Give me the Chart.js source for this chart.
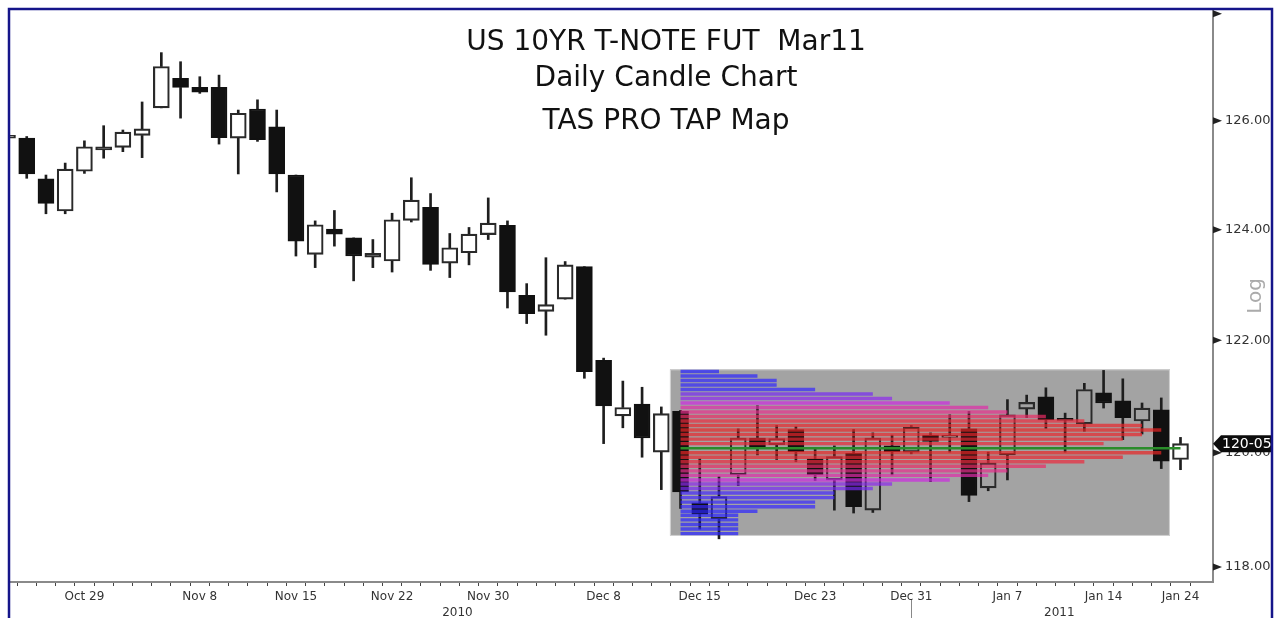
<!DOCTYPE html>
<html>
<head>
<meta charset="utf-8">
<script src="https://cdn.jsdelivr.net/npm/chart.js@4.4.1/dist/chart.umd.min.js"></script>
<style>
  html, body { margin: 0; padding: 0; background: #fff; }
  #wrap { width: 1275px; height: 618px; }
</style>
</head>
<body>
<div id="wrap"><canvas id="myChart" width="1275" height="618"></canvas></div>
<script>
// daily candles, Oct 25 2010 .. Jan 24 2011 (one entry per trading day)
const opens  = [125.68,125.68,124.93,124.34,125.07,125.46,125.51,125.73,126.24,126.79,
                126.62,126.62,125.68,126.22,125.89,125.00,123.55,124.01,123.85,123.50,
                123.43,124.17,124.41,123.39,123.58,123.91,124.08,122.81,122.52,122.74,
                123.33,121.64,120.65,120.86,120.01,120.73,119.12,118.84,119.61,120.26,
                120.14,120.41,119.89,119.52,119.99,118.99,120.12,120.01,120.31,120.27,
                120.42,119.38,119.96,120.77,120.99,120.60,120.51,121.06,120.92,120.56,
                120.76,119.88];
const highs  = [125.75,125.71,125.00,125.22,125.63,125.91,125.83,126.35,127.27,127.10,
                126.82,126.85,126.20,126.39,126.20,125.00,124.16,124.35,123.85,123.82,
                124.30,124.95,124.66,123.93,124.04,124.58,124.16,123.02,123.49,123.42,
                123.33,121.68,121.27,121.16,120.81,120.75,119.89,119.58,120.42,120.83,
                120.48,120.46,120.07,120.12,120.41,120.35,120.31,120.48,120.35,120.67,
                120.73,120.01,120.94,121.02,121.15,120.70,121.23,121.46,121.31,120.88,
                120.97,120.27];
const lows   = [125.66,124.94,124.29,124.29,125.03,125.31,125.43,125.32,126.24,126.05,
                126.51,125.57,125.02,125.62,124.69,123.52,123.31,123.70,123.07,123.31,
                123.23,124.14,123.26,123.13,123.36,123.82,122.58,122.30,122.09,122.74,
                121.32,120.16,120.44,119.92,119.35,119.02,118.66,118.49,119.42,119.96,
                119.88,119.84,119.51,118.99,118.94,118.95,119.61,119.98,119.49,120.01,
                119.14,119.33,119.52,120.62,120.43,120.01,120.38,120.79,120.23,120.33,
                119.72,119.70];
const closes = [125.73,125.02,124.48,125.11,125.52,125.52,125.79,125.85,127.01,126.62,
                126.53,125.69,126.14,125.65,125.02,123.79,124.09,123.92,123.52,123.57,
                124.18,124.54,123.37,123.67,123.92,124.12,122.87,122.48,122.64,123.36,
                121.44,120.83,120.80,120.26,120.69,119.31,118.92,119.23,120.26,120.09,
                120.25,120.02,119.61,119.93,119.05,120.26,120.02,120.45,120.20,120.30,
                119.25,119.82,120.67,120.89,120.58,120.57,121.12,120.88,120.62,120.79,
                119.85,120.16];

// x axis labels (candle index -> text)
const tickIndex = [4, 10, 15, 20, 25, 31, 36, 42, 47, 52, 57, 61];
const tickText  = ['Oct 29','Nov 8','Nov 15','Nov 22','Nov 30','Dec 8','Dec 15','Dec 23','Dec 31','Jan 7','Jan 14','Jan 24'];
const yearText  = ['2010', '2011'];
const yearAt    = [23.4, 54.7];
const yearBreak = 47;

// right axis
const priceTicks = [118, 120, 122, 124, 126, 128];
const lastPrice = 120.15625;
const lastText  = '120-05';

// TAP map: price levels and their length in bars, starting at candle 35
const tapPrices = [121.44,121.36,121.28,121.20,121.12,121.04,120.96,120.88,120.80,120.72,
                   120.64,120.56,120.48,120.40,120.32,120.24,120.16,120.08,120.00,119.92,
                   119.84,119.76,119.68,119.60,119.52,119.45,119.37,119.29,119.21,119.13,
                   119.05,118.97,118.90,118.82,118.74,118.66,118.58];
const tapBars   = [2,4,5,5,7,10,11,14,16,17,
                   19,21,24,25,24,23,22,26,25,23,
                   21,19,17,16,14,11,10,8,8,7,
                   7,4,3,3,3,3,3];
const tapStart = 35;
const pocPrice = 120.08;
const boxFrom = 34.45, boxTo = 60.45, boxLow = 118.54, boxHigh = 121.48;

const idx = opens.map((_, i) => i);
const hollow = idx.map(i => closes[i] >= opens[i]);
const maxBar = Math.max(...tapBars.filter((b, k) => tapPrices[k] !== pocPrice));

function tapColor(t) {
  const stops = [[0,[30,30,255]],[0.3,[55,40,255]],[0.42,[130,40,240]],[0.56,[205,40,225]],
                 [0.68,[232,45,140]],[0.84,[236,40,60]],[1,[232,35,35]]];
  for (let s = 1; s < stops.length; s++) {
    if (t <= stops[s][0]) {
      const a = stops[s-1], b = stops[s];
      const f = (t - a[0]) / (b[0] - a[0]);
      const c = a[1].map((v, j) => Math.round(v + (b[1][j] - v) * f));
      return 'rgba(' + c.join(',') + ',0.7)';
    }
  }
  return 'rgba(232,35,35,0.7)';
}

const tapSets = tapPrices.map((p, k) => ({
  type: 'line',
  data: [{x: tapStart, y: p}, {x: tapStart + tapBars[k], y: p}],
  borderColor: p === pocPrice ? '#2a8c2a' : tapColor(tapBars[k] / maxBar),
  borderWidth: p === pocPrice ? 2.5 : 3.4,
  pointRadius: 0,
  fill: false,
  order: p === pocPrice ? 0 : 1
}));

const bodies = {
  type: 'bar',
  data: idx.map(i => ({x: i, y: [opens[i], closes[i]]})),
  backgroundColor: idx.map(i => hollow[i] ? 'rgba(0,0,0,0)' : '#111'),
  borderColor: idx.map(i => hollow[i] ? '#2a2a2a' : '#111'),
  borderWidth: 1.5,
  borderSkipped: false,
  barThickness: 16,
  minBarLength: 2,
  grouped: false,
  order: 2
};
const upperWicks = {
  type: 'bar',
  data: idx.map(i => ({x: i, y: [Math.max(opens[i], closes[i]), highs[i]]})),
  backgroundColor: '#1e1e1e',
  barThickness: 2,
  grouped: false,
  order: 3
};
const lowerWicks = {
  type: 'bar',
  data: idx.map(i => ({x: i, y: [lows[i], Math.min(opens[i], closes[i])]})),
  backgroundColor: '#1e1e1e',
  barThickness: 2,
  grouped: false,
  order: 3
};

const FONT = "'DejaVu Sans', 'Liberation Sans', sans-serif";

const overlay = {
  id: 'overlay',
  beforeDatasetsDraw(chart) {
    const {ctx, scales: {x, y}} = chart;
    const l = x.getPixelForValue(boxFrom), r = x.getPixelForValue(boxTo);
    const t = y.getPixelForValue(boxHigh), b = y.getPixelForValue(boxLow);
    ctx.save();
    ctx.fillStyle = '#a3a3a3';
    ctx.fillRect(l, t, r - l, b - t);
    ctx.strokeStyle = '#d2d2d2';
    ctx.lineWidth = 1;
    ctx.strokeRect(l + 0.5, t + 0.5, r - l - 1, b - t - 1);
    ctx.restore();
  },
  afterDraw(chart) {
    const {ctx, chartArea, scales: {x, y}} = chart;
    ctx.save();

    // title
    ctx.fillStyle = '#111';
    ctx.font = '28px ' + FONT;
    ctx.textAlign = 'center';
    ctx.textBaseline = 'alphabetic';
    ctx.fillText('US 10YR T-NOTE FUT  Mar11', 666, 50);
    ctx.fillText('Daily Candle Chart', 666, 86);
    ctx.fillText('TAS PRO TAP Map', 666, 129);

    // right axis markers
    ctx.fillStyle = '#222';
    priceTicks.forEach(v => {
      const yy = y.getPixelForValue(v);
      ctx.beginPath();
      ctx.moveTo(chartArea.right, yy - 3.5);
      ctx.lineTo(chartArea.right + 9, yy);
      ctx.lineTo(chartArea.right, yy + 3.5);
      ctx.closePath();
      ctx.fill();
    });

    // "Log" axis note
    ctx.save();
    ctx.translate(1256, 296);
    ctx.rotate(-Math.PI / 2);
    ctx.fillStyle = '#ababab';
    ctx.font = '20px ' + FONT;
    ctx.textAlign = 'center';
    ctx.textBaseline = 'middle';
    ctx.fillText('Log', 0, 0);
    ctx.restore();

    // last price tag
    const py = y.getPixelForValue(lastPrice);
    const r0 = chartArea.right;
    ctx.fillStyle = '#0c0c0c';
    ctx.beginPath();
    ctx.moveTo(r0, py);
    ctx.lineTo(r0 + 8, py - 8.5);
    ctx.lineTo(1273, py - 8.5);
    ctx.lineTo(1273, py + 8.5);
    ctx.lineTo(r0 + 8, py + 8.5);
    ctx.closePath();
    ctx.fill();
    ctx.fillStyle = '#fff';
    ctx.font = '14px ' + FONT;
    ctx.textAlign = 'left';
    ctx.textBaseline = 'middle';
    ctx.fillText(lastText, r0 + 9, py + 0.5);

    // year labels and separator
    ctx.fillStyle = '#333';
    ctx.font = '12px ' + FONT;
    ctx.textAlign = 'center';
    ctx.textBaseline = 'middle';
    yearText.forEach((t, k) => ctx.fillText(t, x.getPixelForValue(yearAt[k]), 613));
    const bx = Math.round(x.getPixelForValue(yearBreak)) + 0.5;
    ctx.strokeStyle = '#888';
    ctx.lineWidth = 1;
    ctx.beginPath();
    ctx.moveTo(bx, 600);
    ctx.lineTo(bx, 618);
    ctx.stroke();

    // outer frame
    ctx.strokeStyle = '#15158a';
    ctx.lineWidth = 2.5;
    ctx.beginPath();
    ctx.moveTo(9, 620);
    ctx.lineTo(9, 9);
    ctx.lineTo(1272, 9);
    ctx.lineTo(1272, 620);
    ctx.stroke();
    ctx.restore();
  }
};

new Chart(document.getElementById('myChart'), {
  type: 'bar',
  data: { datasets: [...tapSets, bodies, upperWicks, lowerWicks] },
  options: {
    responsive: false,
    animation: false,
    events: [],
    layout: { padding: { left: 10, top: 10, right: 2, bottom: 0 } },
    plugins: { legend: { display: false }, tooltip: { enabled: false }, title: { display: false } },
    scales: {
      x: {
        type: 'linear',
        min: 0.13,
        max: 62.69,
        offset: false,
        afterBuildTicks: s => { s.ticks = idx.filter(v => v >= 1).map(v => ({value: v})); },
        afterFit: s => { s.height = 36; s.paddingLeft = 0; s.paddingRight = 0; },
        border: { color: '#8a8a8a', width: 2 },
        grid: { drawOnChartArea: false, drawTicks: true, tickLength: 4, color: '#444' },
        ticks: {
          autoSkip: false, maxRotation: 0, padding: 4, color: '#333',
          font: { family: FONT, size: 12 },
          callback: v => { const k = tickIndex.indexOf(v); return k < 0 ? '' : tickText[k]; }
        }
      },
      y: {
        type: 'logarithmic',
        position: 'right',
        min: 117.74,
        max: 128.07,
        afterBuildTicks: s => { s.ticks = priceTicks.map(v => ({value: v})); },
        afterFit: s => { s.width = 60; s.paddingTop = 0; s.paddingBottom = 0; },
        border: { color: '#8a8a8a', width: 2 },
        grid: { drawOnChartArea: false, drawTicks: false },
        ticks: {
          padding: 12, color: '#333',
          font: { family: FONT, size: 13 },
          callback: v => v < 127 ? v.toFixed(2) : ''
        }
      }
    }
  },
  plugins: [overlay]
});
</script>
</body>
</html>
